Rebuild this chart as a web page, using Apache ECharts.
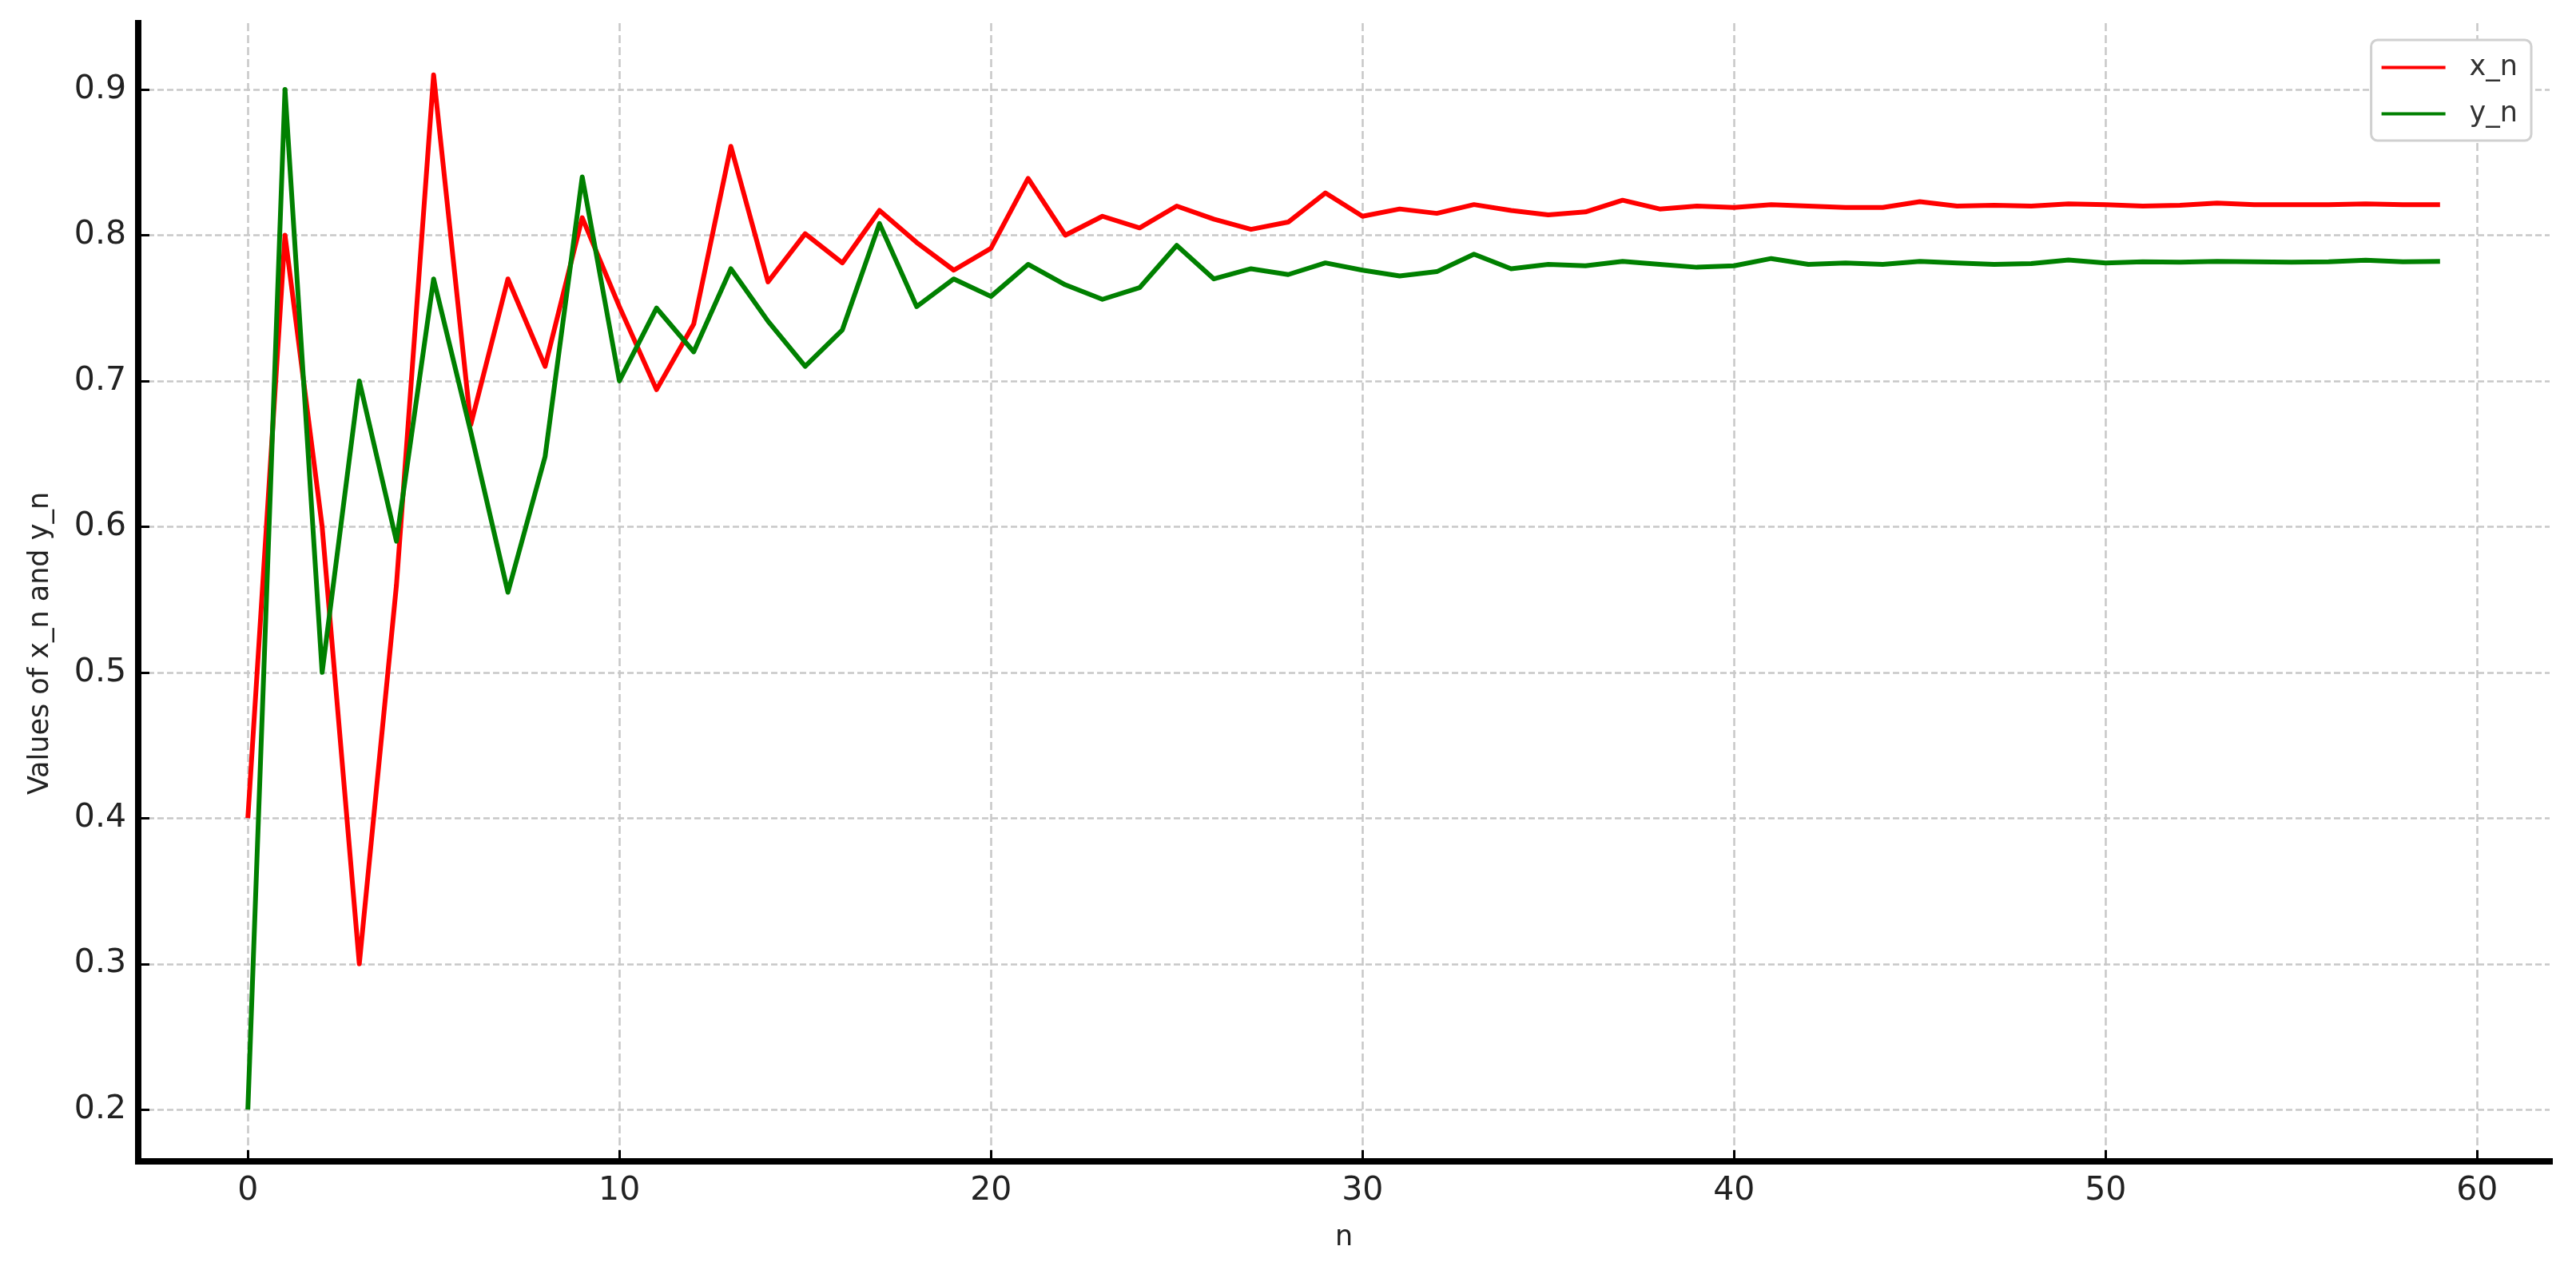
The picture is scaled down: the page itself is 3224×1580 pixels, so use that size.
<!DOCTYPE html>
<html>
<head>
<meta charset="utf-8">
<title>x_n and y_n</title>
<script src="https://cdn.jsdelivr.net/npm/echarts@6/dist/echarts.min.js"></script>
<style>
    html, body { margin: 0; padding: 0; background: #fff; }
    #chart { width: 3224px; height: 1580px; }
</style>
</head>
<body>
<div id="chart"></div>
<script>
// values, index = n
const xnValues = [
    0.40, 0.80, 0.60, 0.30, 0.56, 0.91, 0.67, 0.77, 0.71, 0.812,
    0.751, 0.694, 0.739, 0.861, 0.768, 0.801, 0.781, 0.817, 0.795, 0.776,
    0.791, 0.839, 0.800, 0.813, 0.805, 0.820, 0.811, 0.804, 0.809, 0.829,
    0.813, 0.818, 0.815, 0.821, 0.817, 0.814, 0.816, 0.824, 0.818, 0.820,
    0.819, 0.821, 0.820, 0.819, 0.819, 0.823, 0.820, 0.8206, 0.820, 0.8215,
    0.821, 0.820, 0.8206, 0.822, 0.821, 0.821, 0.821, 0.8215, 0.821, 0.821
];
const ynValues = [
    0.20, 0.90, 0.50, 0.70, 0.59, 0.77, 0.665, 0.555, 0.648, 0.84,
    0.70, 0.75, 0.72, 0.777, 0.741, 0.710, 0.735, 0.808, 0.751, 0.770,
    0.758, 0.780, 0.766, 0.756, 0.764, 0.793, 0.770, 0.777, 0.773, 0.781,
    0.776, 0.772, 0.775, 0.787, 0.777, 0.780, 0.779, 0.782, 0.780, 0.778,
    0.779, 0.784, 0.780, 0.781, 0.780, 0.782, 0.781, 0.780, 0.7805, 0.783,
    0.781, 0.7817, 0.7815, 0.782, 0.7818, 0.7815, 0.7818, 0.7828, 0.7818, 0.782
];
const xTicks = [0, 10, 20, 30, 40, 50, 60];
const yTicks = [0.2, 0.3, 0.4, 0.5, 0.6, 0.7, 0.8, 0.9];
const seriesNames = ['x_n', 'y_n'];

const font = 'DejaVu Sans';
const textColor = '#222222';

let chart = echarts.init(document.getElementById('chart'), null, { renderer: 'canvas' });

function toPoints(list) {
    return list.map((v, i) => [i, v]);
}

chart.setOption({
    animation: false,
    backgroundColor: '#ffffff',
    grid: {
        left: 173,
        right: 33,
        top: 29,
        bottom: 126,
        containLabel: false
    },
    legend: {
        right: 56,
        top: 50,
        orient: 'vertical',
        icon: 'rect',
        itemWidth: 80,
        itemHeight: 4,
        itemGap: 23,
        padding: [17, 17, 16, 13],
        borderColor: '#d0d0d0',
        borderWidth: 3,
        borderRadius: 8,
        backgroundColor: '#ffffff',
        textStyle: {
            fontFamily: font,
            fontSize: 35,
            color: '#333333',
            padding: [0, 0, 0, 25]
        },
        data: seriesNames
    },
    xAxis: {
        type: 'value',
        min: -2.95,
        max: 61.95,
        name: 'n',
        nameLocation: 'middle',
        nameGap: 78,
        nameTextStyle: { fontFamily: font, fontSize: 35, color: textColor },
        axisLine: { onZero: false, lineStyle: { color: '#000', width: 8, cap: 'square' } },
        axisTick: {
            inside: true,
            length: 14,
            customValues: xTicks,
            lineStyle: { color: '#000', width: 3 }
        },
        axisLabel: {
            customValues: xTicks,
            margin: 17,
            fontFamily: font,
            fontSize: 41,
            color: textColor
        },
        splitLine: {
            show: true,
            lineStyle: { color: '#c8c8c8', width: 2.5, type: [10, 5] }
        }
    },
    yAxis: {
        type: 'value',
        min: 0.1645,
        max: 0.9455,
        name: 'Values of x_n and y_n',
        nameLocation: 'middle',
        nameRotate: 90,
        nameGap: 105,
        nameTextStyle: {
            fontFamily: font,
            fontSize: 35,
            color: textColor,
            padding: [0, 128, 0, 0]
        },
        axisLine: { onZero: false, lineStyle: { color: '#000', width: 8, cap: 'square' } },
        axisTick: {
            inside: true,
            length: 14,
            customValues: yTicks,
            lineStyle: { color: '#000', width: 3 }
        },
        axisLabel: {
            customValues: yTicks,
            margin: 15,
            fontFamily: font,
            fontSize: 41,
            color: textColor,
            formatter: (v) => v.toFixed(1)
        },
        splitLine: {
            show: true,
            lineStyle: { color: '#c8c8c8', width: 2.5, type: [8, 4] }
        }
    },
    series: [
        {
            name: seriesNames[0],
            type: 'line',
            data: toPoints(xnValues),
            showSymbol: false,
            color: '#ff0000',
            lineStyle: { color: '#ff0000', width: 6, join: 'round' }
        },
        {
            name: seriesNames[1],
            type: 'line',
            data: toPoints(ynValues),
            showSymbol: false,
            color: '#008000',
            lineStyle: { color: '#008000', width: 6, join: 'round' }
        }
    ]
});
</script>
</body>
</html>
